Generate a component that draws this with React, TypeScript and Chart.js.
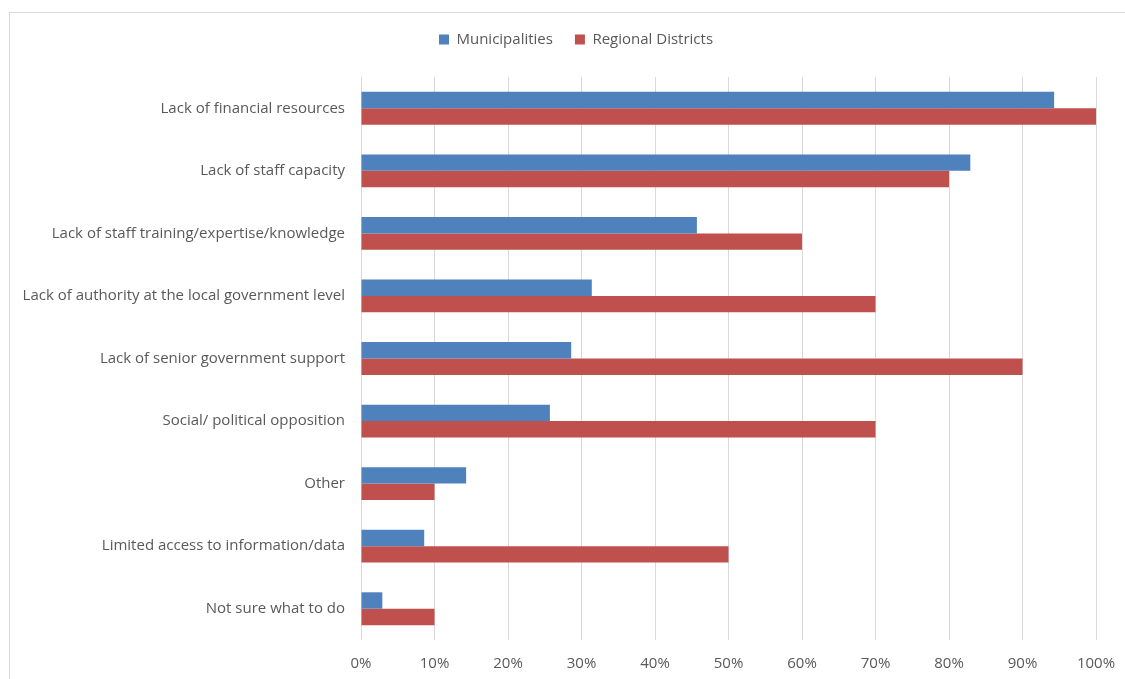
import React, { useEffect, useRef } from "react";
import { Chart, registerables } from "chart.js";

Chart.register(...registerables);

const categories = [
  "Lack of financial resources",
  "Lack of staff capacity",
  "Lack of staff training/expertise/knowledge",
  "Lack of authority at the local government level",
  "Lack of senior government support",
  "Social/ political opposition",
  "Other",
  "Limited access to information/data",
  "Not sure what to do",
];

const municipalities = [94.3, 82.9, 45.7, 31.4, 28.6, 25.7, 14.3, 8.6, 2.9];
const regionalDistricts = [100, 80, 60, 70, 90, 70, 10, 50, 10];

const seriesNames = ["Municipalities", "Regional Districts"];
const seriesColors = ["#4F81BD", "#C0504D"];

const FONT = "'Open Sans', sans-serif";
const TEXT = "#595959";

const legendSpacer = {
  id: "legendSpacer",
  beforeInit(chart: any) {
    const orig = chart.legend.fit;
    chart.legend.fit = function () {
      orig.call(this);
      this.height += 20;
    };
  },
  afterLayout(chart: any) {
    if (chart.legend) {
      chart.legend.left += 28;
      chart.legend.right += 28;
    }
  },
};

export default function App() {
  const ref = useRef<HTMLCanvasElement | null>(null);

  useEffect(() => {
    if (!ref.current) return;
    const chart = new Chart(ref.current, {
      type: "bar",
      data: {
        labels: categories,
        datasets: [
          {
            label: seriesNames[0],
            data: municipalities,
            backgroundColor: seriesColors[0],
            barPercentage: 1,
            categoryPercentage: 0.525,
          },
          {
            label: seriesNames[1],
            data: regionalDistricts,
            backgroundColor: seriesColors[1],
            barPercentage: 1,
            categoryPercentage: 0.525,
          },
        ],
      },
      plugins: [legendSpacer],
      options: {
        indexAxis: "y",
        animation: false,
        responsive: false,
        maintainAspectRatio: false,
        layout: { padding: { top: 10, right: 29, left: 0, bottom: 0 } },
        plugins: {
          legend: {
            display: true,
            position: "top",
            labels: {
              boxWidth: 10,
              boxHeight: 10,
              color: TEXT,
              font: { family: FONT, size: 15 },
              padding: 22,
            },
          },
          tooltip: { enabled: false },
        },
        scales: {
          x: {
            min: 0,
            max: 100,
            ticks: {
              stepSize: 10,
              color: TEXT,
              font: { family: FONT, size: 15 },
              padding: 15,
              callback: (v: any) => v + "%",
            },
            grid: { color: "#d9d9d9", drawTicks: false, lineWidth: 1 },
            border: { display: false },
            afterFit: (s: any) => {
              s.height = 39;
              s.paddingLeft = 0;
              s.paddingRight = 0;
            },
          },
          y: {
            ticks: {
              color: TEXT,
              font: { family: FONT, size: 15 },
              padding: 16,
            },
            grid: { display: false, drawTicks: false },
            border: { display: false },
            afterFit: (s: any) => {
              s.width = 361;
              s.paddingTop = 0;
              s.paddingBottom = 0;
            },
          },
        },
      },
    });
    return () => chart.destroy();
  }, []);

  return (
    <div
      style={{
        position: "fixed",
        left: 0,
        top: 0,
        width: 1125,
        height: 679,
        overflow: "hidden",
        background: "#fff",
      }}
    >
      <div
        style={{
          position: "absolute",
          left: 9,
          top: 12,
          width: 1200,
          height: 800,
          border: "1px solid #d9d9d9",
        }}
      />
      <canvas
        ref={ref}
        width={1125}
        height={679}
        style={{ position: "absolute", left: 0, top: 0 }}
      />
    </div>
  );
}
